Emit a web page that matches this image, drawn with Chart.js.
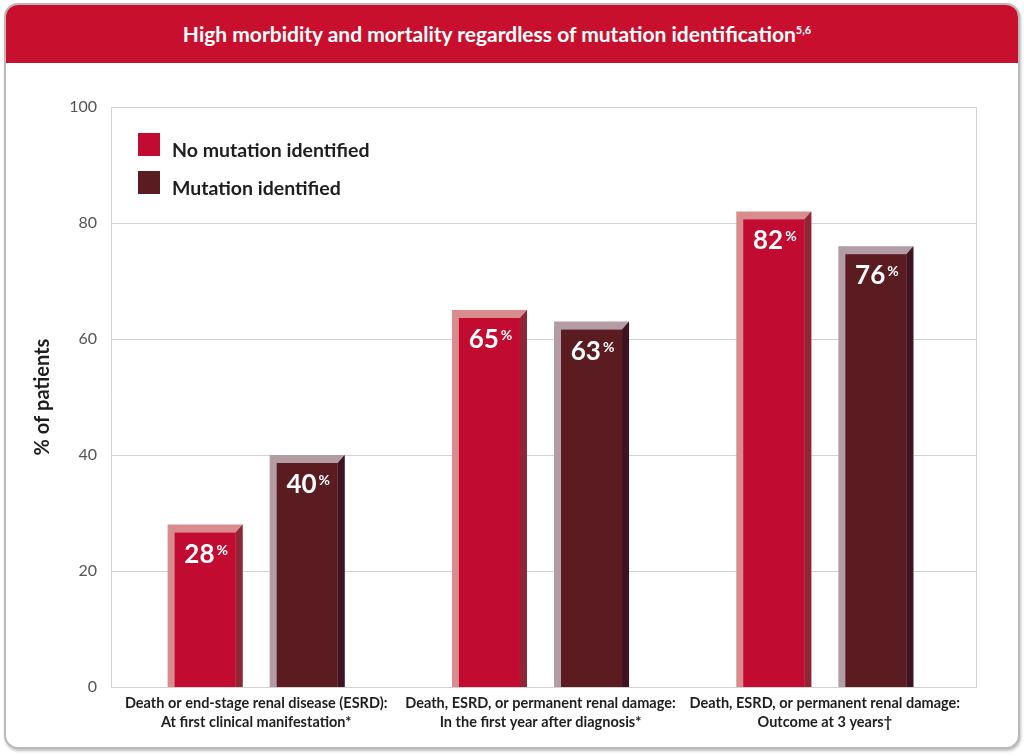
<!DOCTYPE html>
<html>
<head>
<meta charset="utf-8">
<script src="https://cdn.jsdelivr.net/npm/chart.js@4/dist/chart.umd.min.js"></script>
<style>
  html, body { margin: 0; padding: 0; background: #ffffff; }
  body { width: 1024px; height: 756px; position: relative; overflow: hidden; font-family: Lato, "Open Sans", sans-serif; }
  #card { position: absolute; left: 4px; top: 3px; width: 1016px; height: 746px; box-sizing: border-box;
          border: 2px solid #b9b9b9; border-radius: 14px; overflow: hidden; background: #fff;
          box-shadow: 1px 2px 3px rgba(0,0,0,0.25); }
  #header { position: absolute; left: 0; top: 0; right: 0; height: 58px; background: #c8102e; padding-right: 30px;
            color: #fff; font: bold 21px Lato, sans-serif; text-align: center; line-height: 58px; }
  #header sup { font-size: 11px; vertical-align: 8px; line-height: 0; }
  #wrap { position: absolute; left: 0; top: 0; width: 1024px; height: 756px; z-index: 2; }
</style>
</head>
<body>
<div id="card"><div id="header">High morbidity and mortality regardless of mutation identification<sup>5,6</sup></div></div>
<div id="wrap"><canvas id="c" width="1024" height="756"></canvas></div>
<script>
const categories = [
  ["Death or end-stage renal disease (ESRD):", "At first clinical manifestation*"],
  ["Death, ESRD, or permanent renal damage:", "In the first year after diagnosis*"],
  ["Death, ESRD, or permanent renal damage:", "Outcome at 3 years\u2020"]
];
const seriesNames = ["No mutation identified", "Mutation identified"];
const noMutation = [28, 65, 82];
const mutation = [40, 63, 76];
const yTicks = [0, 20, 40, 60, 80, 100];

const palette = [
  { face: "#c20b30", light: "#d98c8e", dark: "#8e2635" },
  { face: "#5b1c21", light: "#b39ca3", dark: "#3e1422" }
];

const PLOT_LEFT = 111, PLOT_RIGHT = 977;

const framePlugin = {
  id: "frame",
  beforeDatasetsDraw(chart) {
    const ctx = chart.ctx, y = chart.scales.y, a = chart.chartArea;
    ctx.save();
    ctx.strokeStyle = "#d2d2d2";
    ctx.lineWidth = 1;
    y.ticks.forEach(t => {
      const py = Math.round(y.getPixelForValue(t.value)) + 0.5;
      ctx.beginPath(); ctx.moveTo(PLOT_LEFT, py); ctx.lineTo(PLOT_RIGHT, py); ctx.stroke();
    });
    ctx.beginPath();
    ctx.moveTo(PLOT_LEFT + 0.5, Math.round(a.top) + 0.5);
    ctx.lineTo(PLOT_LEFT + 0.5, Math.round(a.bottom) + 0.5);
    ctx.moveTo(PLOT_RIGHT - 0.5, Math.round(a.top) + 0.5);
    ctx.lineTo(PLOT_RIGHT - 0.5, Math.round(a.bottom) + 0.5);
    ctx.stroke();
    ctx.restore();
  },
  afterDatasetsDraw(chart) {
    const ctx = chart.ctx;
    ctx.save();
    chart.data.datasets.forEach((ds, di) => {
      const meta = chart.getDatasetMeta(di);
      const col = palette[di];
      meta.data.forEach((el, i) => {
        const p = el.getProps(["x", "y", "base", "width"], true);
        const l = p.x - p.width / 2, r = p.x + p.width / 2;
        const top = p.y, bot = p.base;
        const s = 7, t = 8;
        ctx.fillStyle = col.dark;
        ctx.beginPath();
        ctx.moveTo(r, top); ctx.lineTo(r, bot); ctx.lineTo(r - s, bot); ctx.lineTo(r - s, top + t);
        ctx.closePath(); ctx.fill();
        ctx.fillStyle = col.face;
        ctx.fillRect(l + s, top + t, r - l - 2 * s, bot - top - t);
        const num = String(ds.data[i]);
        ctx.fillStyle = "#ffffff";
        ctx.textBaseline = "alphabetic";
        ctx.textAlign = "left";
        ctx.font = "bold 26px Lato, sans-serif";
        const wn = ctx.measureText(num).width;
        ctx.font = "bold 14px Lato, sans-serif";
        const wp = ctx.measureText("%").width;
        const gx = (l + r) / 2 - (wn + 2 + wp) / 2 + 1;
        const base = top + 38;
        ctx.font = "bold 26px Lato, sans-serif";
        ctx.fillText(num, gx, base);
        ctx.font = "bold 14px Lato, sans-serif";
        ctx.fillText("%", gx + wn + 2, base - 8);
      });
    });
    chart.data.datasets.forEach((ds, di) => {
      const sy = 133 + di * 38;
      ctx.fillStyle = palette[di].face;
      ctx.fillRect(138, sy, 22, 23);
      ctx.fillStyle = "#1e1e1e";
      ctx.font = "bold 19.5px Lato, sans-serif";
      ctx.textBaseline = "alphabetic";
      ctx.textAlign = "left";
      ctx.fillText(ds.label, 172, sy + 24);
    });
    ctx.restore();
  }
};

new Chart(document.getElementById("c"), {
  type: "bar",
  data: {
    labels: categories,
    datasets: [
      { label: seriesNames[0], data: noMutation, backgroundColor: palette[0].light, borderWidth: 0 },
      { label: seriesNames[1], data: mutation, backgroundColor: palette[1].light, borderWidth: 0 }
    ]
  },
  options: {
    responsive: false,
    animation: false,
    events: [],
    devicePixelRatio: 1,
    layout: { padding: { top: 107, right: 57, bottom: 0, left: 0 } },
    datasets: { bar: { categoryPercentage: 0.718, barPercentage: 0.735 } },
    plugins: { legend: { display: false }, tooltip: { enabled: false } },
    scales: {
      x: {
        grid: { display: false, drawTicks: false },
        border: { display: false },
        ticks: { color: "#1e1e1e", font: { family: "Lato", weight: "bold", size: 14.5, lineHeight: 1.3 }, padding: 7, maxRotation: 0, autoSkip: false },
        afterFit(s) { s.height = 69; }
      },
      y: {
        min: 0, max: 100,
        afterBuildTicks(s) { s.ticks = yTicks.map(v => ({ value: v })); },
        grid: { display: false, drawTicks: false },
        border: { display: false },
        ticks: { color: "#555555", font: { family: "Lato", size: 16 }, padding: 17 },
        title: { display: true, text: "% of patients", color: "#1e1e1e", font: { family: "Lato", weight: "bold", size: 20, lineHeight: 1.2 }, padding: { top: 31, bottom: 0 } },
        afterFit(s) { s.width = 114; }
      }
    }
  },
  plugins: [framePlugin]
});
</script>
</body>
</html>
